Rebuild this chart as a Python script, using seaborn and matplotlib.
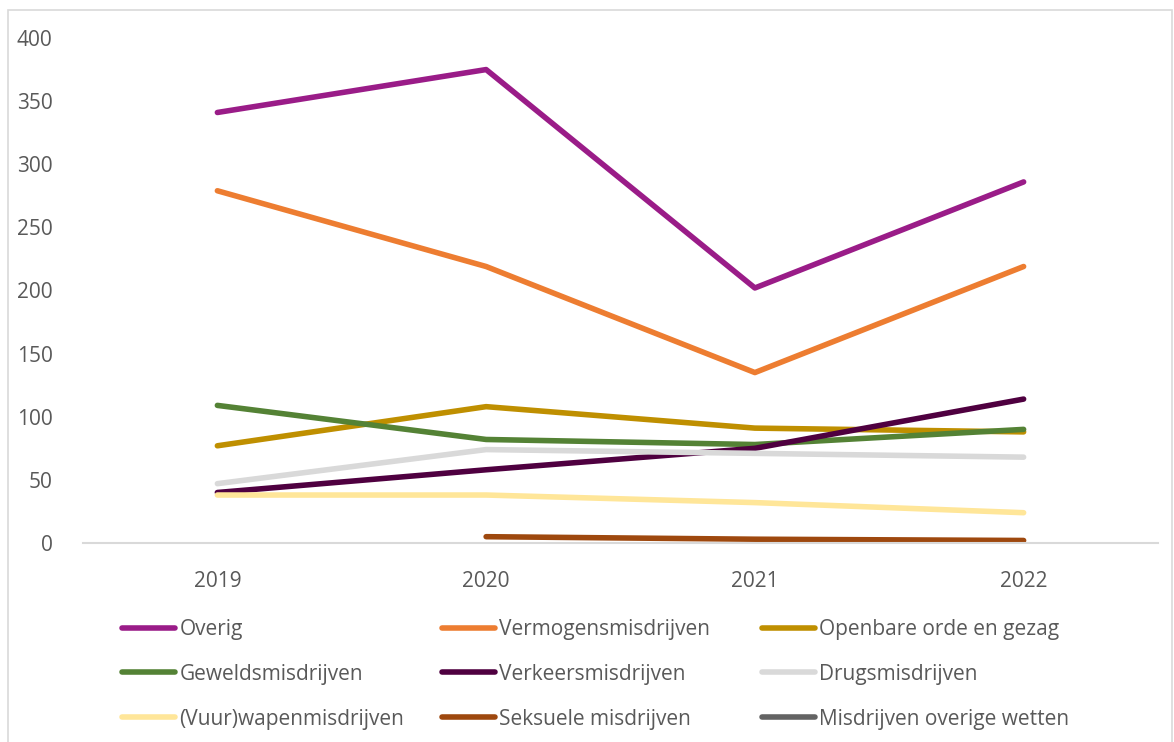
import numpy as np
import pandas as pd
import seaborn as sns
import matplotlib.pyplot as plt
from matplotlib.lines import Line2D
from matplotlib.patches import Rectangle

# -----------------------------------------------------------------------------
# Data
# -----------------------------------------------------------------------------
years = ["2019", "2020", "2021", "2022"]

overig = [341, 375, 202, 286]
vermogen = [279, 219, 135, 219]
openbare_orde = [77, 108, 91, 88]
geweld = [109, 82, 78, 90]
verkeer = [40, 58, 75, 114]
drugs = [47, 74, 71, 68]
vuurwapen = [38, 38, 32, 24]
seksueel = [np.nan, 5, 3, 2]
overige_wetten = [np.nan, np.nan, np.nan, np.nan]

series_names = ["Overig", "Vermogensmisdrijven", "Openbare orde en gezag",
                "Geweldsmisdrijven", "Verkeersmisdrijven", "Drugsmisdrijven",
                "(Vuur)wapenmisdrijven", "Seksuele misdrijven",
                "Misdrijven overige wetten"]
series_values = [overig, vermogen, openbare_orde, geweld, verkeer, drugs,
                 vuurwapen, seksueel, overige_wetten]

colors = ["#9A1C88", "#ED7D31", "#BF8F00", "#548235", "#4F0040",
          "#D9D9D9", "#FFE699", "#9E480E", "#636363"]

# -----------------------------------------------------------------------------
# Plotting attributes
# -----------------------------------------------------------------------------
sns.set_theme(style="white")
plt.rcParams["font.family"] = ["Open Sans", "DejaVu Sans"]

text_color = "#595959"
lw = 4
fs = 15

df = pd.DataFrame({
    "jaar": years * len(series_names),
    "waarde": [v for vals in series_values for v in vals],
    "soort": [n for n in series_names for _ in years],
})
df["x"] = df["jaar"].map({y: i for i, y in enumerate(years)})

fig = plt.figure(figsize=(11.74, 7.42), dpi=100)
W, H = 1174, 742
ax = fig.add_axes([83 / W, 1 - 543 / H, (1158 - 83) / W, (543 - 38) / H])

# Outer chart border
fig.patches.append(Rectangle((8 / W, -0.01), (1172 - 8) / W, 1 - 10 / H + 0.01,
                             transform=fig.transFigure, fill=False,
                             edgecolor="#D9D9D9", lw=1.2))

palette = dict(zip(series_names, colors))
for name in series_names:
    sub = df[df["soort"] == name].dropna()
    if len(sub) == 0:
        continue
    sns.lineplot(x="x", y="waarde", data=sub, color=palette[name], lw=lw,
                 errorbar=None, ax=ax, legend=False, solid_capstyle="round")

ax.set_xlim(-0.5, 3.5)
ax.set_ylim(0, 400)
ax.set_xticks(range(len(years)))
ax.set_xticklabels(years)
ax.set_yticks(range(0, 401, 50))
ax.set(xlabel=None, ylabel=None)
ax.tick_params(axis="both", length=0, labelsize=fs, colors=text_color)
ax.tick_params(axis="y", pad=22)
ax.tick_params(axis="x", pad=20)
for s in ["top", "right", "left"]:
    ax.spines[s].set_visible(False)
ax.spines["bottom"].set_color("#D9D9D9")
ax.spines["bottom"].set_linewidth(1.5)

# Legend: three fixed-width columns, filled row by row
handles = [Line2D([0], [0], color=c, lw=lw, solid_capstyle="round") for c in colors]
col_x = [122, 442, 762]
for col in range(3):
    idx = [col, col + 3, col + 6]
    leg = fig.legend([handles[i] for i in idx], [series_names[i] for i in idx],
                     loc="upper left", bbox_to_anchor=(col_x[col] / W, 1 - 619 / H),
                     frameon=False, fontsize=fs, labelcolor=text_color,
                     handlelength=2.55, handletextpad=0.2, labelspacing=1.14,
                     borderpad=0, borderaxespad=0)

fig.savefig("out.png", dpi=100)
